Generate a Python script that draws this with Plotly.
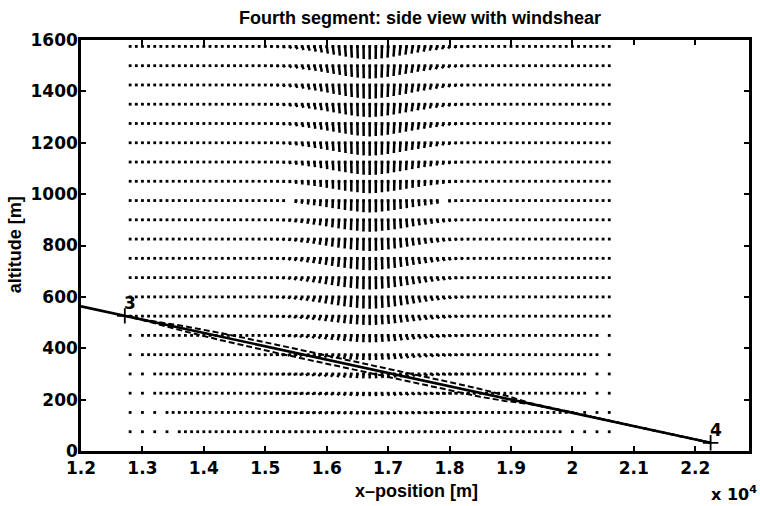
import plotly.graph_objects as go

# ---------------- data ----------------
# quiver grid (m)
row_alt = [75, 150, 225, 300, 375, 450, 525, 600, 675, 750, 825, 900, 975,
           1050, 1125, 1200, 1275, 1350, 1425, 1500, 1575]
col_x = list(range(12800, 20700, 100))      # 79 grid columns, 100 m apart
x_core = 16700                              # downburst centre

# peak downdraft per row (m/s) and peak horizontal outflow per row (m/s, + = away from core)
row_down = [1.1, 2.3, 3.4, 5.2, 6.3, 8.0, 10.3, 13.7, 13.7, 13.7, 13.7, 13.7, 13.7,
            13.7, 14.9, 14.9, 14.9, 14.9, 16.0, 14.9, 14.9]
row_out = [7, 11, 12, 12, 11, 10, 9, 8, 7, 6, 5, 4, 2,
           -1, -3, -4, -5, -6, -6, -7, -7]

# relative strength versus distance from the core, per 100 m column step
prof_down = [1.0, 0.97, 0.92, 0.86, 0.79, 0.71, 0.63, 0.55, 0.47, 0.40,
             0.33, 0.27, 0.21, 0.16, 0.12, 0.09, 0.07, 0.05, 0.04, 0.03,
             0.02, 0.02, 0.02, 0.02, 0.02, 0.02, 0.02, 0.02, 0.02, 0.02,
             0.02, 0.02, 0.02, 0.02, 0.02, 0.02, 0.02, 0.02, 0.02, 0.02]
prof_out = [0.0, 0.12, 0.25, 0.38, 0.50, 0.62, 0.72, 0.81, 0.88, 0.94,
            0.98, 1.0, 0.98, 0.93, 0.86, 0.78, 0.69, 0.60, 0.51, 0.43,
            0.36, 0.30, 0.25, 0.20, 0.16, 0.13, 0.10, 0.08, 0.06, 0.05,
            0.04, 0.03, 0.03, 0.02, 0.02, 0.02, 0.01, 0.01, 0.01, 0.01]

# grid points without an arrow
missing = {
    75: [12900, 13100, 13300, 13500, 19900, 20100, 20300, 20500],
    150: [12900, 13100, 13300, 20100, 20300, 20500],
    225: [12900, 13100, 20300, 20500],
    300: [12900, 13100, 20300, 20500],
    375: [12900, 20500],
    450: [12900, 20500],
    975: [15400, 17900],
}

quiver_scale = 3.4   # m of plot per m/s

# nominal path (solid) and perturbed trajectories (dashed)
path_x = [12000, 22250]
path_alt = [563, 32]
dash_x = [12700, 13000, 13700, 14300, 15200, 16000, 17000, 18100, 18500, 18900,
          19300, 20000, 21000, 22250]
dash_up = [527, 512, 485, 458, 413, 372, 321, 263, 241, 217, 187, 149, 97, 32]
dash_lo = [527, 510, 465, 430, 381, 340, 287, 231, 211, 195, 183, 149, 97, 32]

# waypoints
wp_x = [12713, 22250]
wp_alt = [526, 32]
wp_label = ["3", "4"]

x_ticks = [12000, 13000, 14000, 15000, 16000, 17000, 18000, 19000, 20000, 21000, 22000]
x_ticktext = ["1.2", "1.3", "1.4", "1.5", "1.6", "1.7", "1.8", "1.9", "2", "2.1", "2.2"]
y_ticks = [0, 200, 400, 600, 800, 1000, 1200, 1400, 1600]

# ---------------- build quiver ----------------
seg_x, seg_y, dot_x, dot_y = [], [], [], []
for i, z in enumerate(row_alt):
    for x in col_x:
        if x in missing.get(z, []):
            continue
        k = abs(x - x_core) // 100
        side = 1 if x > x_core else (-1 if x < x_core else 0)
        u = side * row_out[i] * prof_out[k]
        w = -row_down[i] * prof_down[k]
        dot_x.append(x)
        dot_y.append(z)
        seg_x += [x, x + u * quiver_scale, None]
        seg_y += [z, z + w * quiver_scale, None]

fig = go.Figure()
fig.add_trace(go.Scatter(x=seg_x, y=seg_y, mode="lines",
                         line=dict(color="black", width=2.5), hoverinfo="skip"))
fig.add_trace(go.Scatter(x=dot_x, y=dot_y, mode="markers",
                         marker=dict(symbol="square", size=2.8, color="black",
                                     line=dict(width=0)), hoverinfo="skip"))
fig.add_trace(go.Scatter(x=path_x, y=path_alt, mode="lines",
                         line=dict(color="black", width=2.6)))
fig.add_trace(go.Scatter(x=dash_x, y=dash_up, mode="lines",
                         line=dict(color="black", width=2, dash="6px,3px")))
fig.add_trace(go.Scatter(x=dash_x, y=dash_lo, mode="lines",
                         line=dict(color="black", width=2, dash="6px,3px")))
fig.add_trace(go.Scatter(x=wp_x, y=wp_alt, mode="markers",
                         marker=dict(symbol="cross-thin", size=11,
                                     line=dict(color="black", width=1.8))))

anns = []
for xx, yy, t in zip(wp_x, wp_alt, wp_label):
    anns.append(dict(x=xx, y=yy, text=t, xref="x", yref="y", showarrow=False,
                     xanchor="left", yanchor="bottom", xshift=-3, yshift=1,
                     font=dict(family="DejaVu Sans", size=17, color="black", weight="bold")))

L, R, T, B = 81, 8, 40, 55
PW, PH = 760 - L - R, 506 - T - B

def px(xp):
    return (xp - L) / PW

def py(yp):
    return (506 - B - yp) / PH

anns.append(dict(x=px(422), y=py(18), xref="paper", yref="paper", showarrow=False,
                 text="Fourth segment: side view with windshear",
                 xanchor="center", yanchor="middle",
                 font=dict(family="Liberation Sans", size=18, color="black", weight="bold")))
anns.append(dict(x=px(418), y=py(491), xref="paper", yref="paper", showarrow=False,
                 text="x\u2013position [m]", xanchor="center", yanchor="middle",
                 font=dict(family="Liberation Sans", size=18, color="black", weight="bold")))
anns.append(dict(x=px(15), y=py(245), xref="paper", yref="paper", showarrow=False,
                 text="altitude [m]", textangle=-90, xanchor="center", yanchor="middle",
                 font=dict(family="Liberation Sans", size=18, color="black", weight="bold")))
anns.append(dict(x=px(712), y=py(493), xref="paper", yref="paper", showarrow=False,
                 text="x 10<sup>4</sup>", xanchor="left", yanchor="middle",
                 font=dict(family="DejaVu Sans", size=16, color="black", weight="bold")))

axis_common = dict(showline=True, linecolor="black", linewidth=2.5, mirror="ticks",
                   ticks="inside", ticklen=5, tickwidth=1.8, tickcolor="black",
                   showgrid=False, zeroline=False,
                   tickfont=dict(family="DejaVu Sans", size=17, color="black", weight="bold"))

fig.update_layout(
    width=760, height=506,
    margin=dict(l=L, r=R, t=T, b=B),
    paper_bgcolor="white", plot_bgcolor="white",
    showlegend=False,
    xaxis=dict(range=[12000, 22875], tickvals=x_ticks, ticktext=x_ticktext, **axis_common),
    yaxis=dict(range=[0, 1600], tickvals=y_ticks, ticklabelstandoff=-3, **axis_common),
    annotations=anns,
)

fig.write_html("out.html")
